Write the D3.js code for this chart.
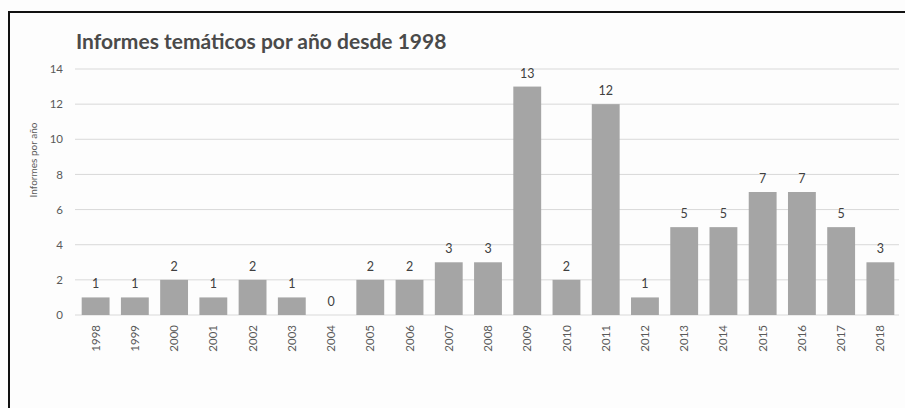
<!DOCTYPE html>
<html><head><meta charset="utf-8">
<script src="https://cdn.jsdelivr.net/npm/d3@7"></script>
<style>
html,body{margin:0;padding:0;background:#fff;}
svg{display:block;}
</style></head>
<body>
<svg id="chart" width="905" height="408"></svg>
<script>
const years = ["1998","1999","2000","2001","2002","2003","2004","2005","2006","2007","2008","2009","2010","2011","2012","2013","2014","2015","2016","2017","2018"];
const informes = [1,1,2,1,2,1,0,2,2,3,3,13,2,12,1,5,5,7,7,5,3];
const yTicks = [0,2,4,6,8,10,12,14];
const title = "Informes temáticos por año desde 1998";
const yLabel = "Informes por año";

const svg = d3.select("#chart");
const font = "Lato, 'Open Sans', sans-serif";

// frame
svg.append("rect").attr("x",0).attr("y",0).attr("width",905).attr("height",408).attr("fill","#fdfdfd");
svg.append("path").attr("d","M9,420 L9,12 L920,12").attr("fill","none").attr("stroke","#111").attr("stroke-width",2);

const x = d3.scaleBand().domain(years).range([76,900]).paddingInner(0.29).paddingOuter(0.145);
const y = d3.scaleLinear().domain([0,14]).range([315,69]);

// gridlines
svg.append("g").selectAll("line").data(yTicks).join("line")
  .attr("x1",75).attr("x2",899)
  .attr("y1",d=>y(d)).attr("y2",d=>y(d))
  .attr("stroke","#d9d9d9").attr("stroke-width",1);

// y axis labels
const yAxis = d3.axisLeft(y).tickValues(yTicks).tickSize(0).tickPadding(0);
const gy = svg.append("g").attr("transform","translate(63,0)").call(yAxis);
gy.select(".domain").remove();
gy.selectAll("text").attr("font-family",font).attr("font-size",11.5).attr("fill","#595959");

// bars
svg.append("g").selectAll("rect").data(informes).join("rect")
  .attr("x",(d,i)=>x(years[i]))
  .attr("width",x.bandwidth())
  .attr("y",d=>y(d))
  .attr("height",d=>y(0)-y(d))
  .attr("fill","#a5a5a5");

// value labels
svg.append("g").selectAll("text").data(informes).join("text")
  .attr("x",(d,i)=>x(years[i])+x.bandwidth()/2)
  .attr("y",d=>y(d)-9)
  .attr("text-anchor","middle")
  .attr("font-family",font).attr("font-size",12.5).attr("fill","#404040")
  .text(d=>d);

// x axis
const xAxis = d3.axisBottom(x).tickSize(0).tickPadding(0);
const gx = svg.append("g").attr("transform","translate(0,315)").call(xAxis);
gx.select(".domain").remove();
gx.selectAll("text")
  .attr("font-family",font).attr("font-size",11.5).attr("fill","#595959")
  .attr("transform","rotate(-90)")
  .attr("text-anchor","end")
  .attr("x",-10).attr("y",0).attr("dy","0.35em");

// y label
svg.append("text")
  .attr("transform","translate(37,160) rotate(-90)")
  .attr("text-anchor","middle")
  .attr("font-family",font).attr("font-size",10).attr("fill","#595959")
  .text(yLabel);

// title
svg.append("text")
  .attr("x",76).attr("y",49)
  .attr("font-family",font).attr("font-size",21).attr("font-weight","bold").attr("fill","#4a4a4a")
  .text(title);
</script>
</body></html>
